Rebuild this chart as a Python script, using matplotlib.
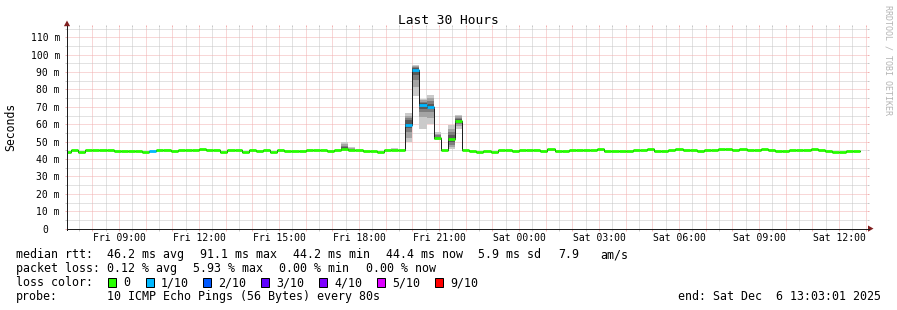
import matplotlib
matplotlib.use('Agg')
import matplotlib.pyplot as plt
import matplotlib.dates as mdates
import matplotlib.ticker as mticker
import matplotlib.transforms as mtransforms
from matplotlib.patches import Polygon, Rectangle
from matplotlib.lines import Line2D
from datetime import datetime, timedelta

# ---------------- data ----------------
view_start = datetime(2025, 12, 5, 7, 3, 1)
view_end = datetime(2025, 12, 6, 13, 3, 1)
first_bin = datetime(2025, 12, 5, 6, 56)
bin_minutes = 16

# median rtt per 16-minute bin (ms)
median_ms = [
    44.25, 45.2, 44.3, 45.0, 45.0, 45.2, 45.2, 44.65, 44.65, 44.65,
    44.65, 44.25, 44.65, 45.2, 45.2, 44.7, 45.2, 45.2, 45.2, 45.9,
    45.2, 45.2, 44.3, 45.2, 45.2, 44.3, 45.2, 44.7, 45.2, 44.3,
    45.2, 44.7, 44.7, 44.7, 45.0, 45.0, 45.0, 44.7, 45.2, 45.9,
    45.0, 45.0, 44.7, 44.7, 44.25, 45.0, 45.0, 45.0, 59.6, 91.1,
    71.1, 70.2, 52.0, 45.1, 51.7, 61.9, 45.0, 44.7, 44.25, 44.7,
    44.25, 45.1, 45.0, 44.7, 45.1, 45.1, 45.1, 44.7, 45.7, 44.85,
    44.85, 45.1, 45.1, 45.1, 45.1, 45.7, 44.85, 44.85, 44.85, 44.9,
    45.2, 45.2, 45.7, 44.85, 44.85, 45.2, 45.7, 45.5, 45.5, 44.85,
    45.2, 45.2, 45.7, 45.7, 45.2, 45.7, 45.2, 45.2, 45.7, 45.2,
    44.9, 44.65, 45.2, 45.2, 45.2, 45.8, 45.2, 44.85, 44.3, 44.3,
    44.85, 44.85,
]

# bins with packet loss (lost pings out of 10)
loss_bins = [12, 48, 49, 50, 51]
loss_pings = [0.08, 0.35, 0.593, 0.20, 0.12]

# bins with visible smoke: the 10 individual ping rtts (ms)
smoke_bins = [39, 40, 46, 48, 49, 50, 51, 52, 54, 55]
smoke_pings = [
    [45.2, 45.5, 45.7, 45.8, 45.9, 46.0, 46.7, 47.5, 48.6, 49.8],
    [44.8, 44.9, 44.95, 45.0, 45.0, 45.05, 45.4, 45.9, 46.4, 47.0],
    [44.8, 44.9, 44.95, 45.0, 45.0, 45.05, 45.2, 45.5, 46.0, 46.6],
    [50.0, 52.3, 55.8, 57.8, 58.9, 60.3, 62.3, 63.5, 64.8, 66.4],
    [76.3, 81.7, 85.3, 88.3, 90.7, 91.5, 92.2, 93.0, 93.5, 94.2],
    [57.3, 64.3, 66.8, 68.8, 70.8, 71.4, 72.2, 73.0, 73.7, 74.4],
    [60.3, 63.8, 66.8, 68.8, 69.8, 70.6, 71.8, 73.3, 75.3, 76.9],
    [50.8, 51.3, 51.6, 51.9, 52.0, 52.1, 52.8, 53.8, 54.6, 55.4],
    [45.6, 46.8, 48.3, 49.8, 51.3, 52.1, 53.8, 55.3, 57.3, 59.6],
    [57.3, 58.8, 60.3, 61.3, 61.8, 62.0, 63.1, 63.8, 64.6, 65.4],
]

y_ticks = [0, 10, 20, 30, 40, 50, 60, 70, 80, 90, 100, 110]
y_tick_labels = ['0', '10 m', '20 m', '30 m', '40 m', '50 m', '60 m',
                 '70 m', '80 m', '90 m', '100 m', '110 m']
y_minor_ticks = [5, 15, 25, 35, 45, 55, 65, 75, 85, 95, 105, 115]

loss_labels = ['0', '1/10', '2/10', '3/10', '4/10', '5/10', '9/10']
loss_colors = ['#26ff00', '#00b8ff', '#0059ff', '#5e00ff', '#7e00ff', '#dd00ff', '#ff0000']
loss_upper = [0, 1, 2, 3, 4, 5, 10]

smoke_shades = ['#cacaca', '#a4a4a4', '#7e7e7e', '#585858', '#323232']

title = 'Last 30 Hours'
ylabel = 'Seconds'
watermark = 'RRDTOOL / TOBI OETIKER'
line1 = ['median rtt:', '46.2 ms avg', '91.1 ms max', '44.2 ms min',
         '44.4 ms now', '5.9 ms sd', '7.9', 'am/s']
line2 = ['packet loss:', '0.12 % avg', '5.93 % max', '0.00 % min', '0.00 % now']
line3_head = 'loss color:'
line4 = ['probe:', '10 ICMP Echo Pings (56 Bytes) every 80s']
end_text = 'end: Sat Dec  6 13:03:01 2025'

# ---------------- drawing ----------------
plt.rcParams['font.family'] = ['DejaVu Sans Mono']
W, H, DPI = 897, 310, 100
PX = 72.0 / DPI
fig = plt.figure(figsize=(W / DPI, H / DPI), dpi=DPI, facecolor='white')

def fx(x):
    return x / W

def fy(y):
    return 1 - y / H

X0, X1, YB, YT = 67, 867, 228.7, 26.5
ax = fig.add_axes([fx(X0), fy(YB), (X1 - X0) / W, (YB - YT) / H])
ax.set_facecolor('white')
ax.set_xlim(mdates.date2num(view_start), mdates.date2num(view_end))
ax.set_ylim(0, 116.2)
for s in ax.spines.values():
    s.set_visible(False)

n = len(median_ms)
edges = [mdates.date2num(first_bin + timedelta(minutes=bin_minutes * i)) for i in range(n + 1)]
bw = bin_minutes / 1440.0

# smoke
for k, shade in enumerate(smoke_shades):
    xs, hs, bs = [], [], []
    for b, pings in zip(smoke_bins, smoke_pings):
        p = sorted(pings)
        xs.append(edges[b])
        bs.append(p[k])
        hs.append(p[len(p) - 1 - k] - p[k])
    ax.bar(xs, hs, bottom=bs, width=bw, align='edge', color=shade,
           linewidth=0, zorder=2)

# median line
ax.step(edges, median_ms + [median_ms[-1]], where='post', color='#202020',
        lw=1.0 * PX, zorder=3)

# loss-coloured median band
loss = [0.0] * n
for b, l in zip(loss_bins, loss_pings):
    loss[b] = l

def loss_color(l):
    for up, c in zip(loss_upper, loss_colors):
        if l <= up:
            return c
    return loss_colors[-1]

cols = [loss_color(l) for l in loss]
lc = ax.hlines(median_ms, edges[:-1], edges[1:], colors=cols, lw=2.8 * PX, zorder=4)
lc.set_capstyle('butt')

# grid & ticks
ax.xaxis.set_major_locator(mdates.HourLocator())
ax.xaxis.set_minor_locator(mdates.MinuteLocator(byminute=[30]))

def xfmt(x, pos):
    d = mdates.num2date(x)
    return d.strftime('%a %H:%M') if d.hour % 3 == 0 else ''

ax.xaxis.set_major_formatter(mticker.FuncFormatter(xfmt))
ax.set_yticks(y_ticks, y_tick_labels)
ax.set_yticks(y_minor_ticks, minor=True)

MAJ = '#f2b0b0'
MIN = '#c6c6c6'
ax.set_axisbelow(True)
ax.grid(True, which='major', color=MAJ, lw=PX, ls=(0, (1, 1)))
ax.grid(True, which='minor', color=MIN, lw=PX, ls=(0, (1, 1)))
ax.tick_params(which='major', length=2 * PX, width=PX, color=MAJ,
               direction='out', labelsize=7, right=True, top=True)
ax.tick_params(which='minor', length=2 * PX, width=PX, color=MIN,
               direction='out', right=True, top=True)
ax.tick_params(axis='y', which='major', pad=5 * PX)
ax.tick_params(axis='x', which='major', pad=2.5 * PX)

zl = ax.get_yticklabels()[0]
zl.set_transform(zl.get_transform() +
                 mtransforms.ScaledTranslation(-12 / DPI, 0, fig.dpi_scale_trans))

# axes lines with arrows
axis_col = '#1f1f1f'
arrow_col = '#801f1f'
fig.add_artist(Line2D([fx(X0), fx(X1 + 2)], [fy(YB), fy(YB)], color=axis_col,
                      lw=PX, transform=fig.transFigure))
fig.add_artist(Line2D([fx(X0), fx(X0)], [fy(YB + 1), fy(YT - 1)], color=axis_col,
                      lw=PX, transform=fig.transFigure))
fig.add_artist(Polygon([(fx(868), fy(225.5)), (fx(868), fy(231.7)), (fx(873.5), fy(228.6))],
                       closed=True, color=arrow_col, lw=0, transform=fig.transFigure))
fig.add_artist(Polygon([(fx(63.9), fy(26.2)), (fx(70.1), fy(26.2)), (fx(67), fy(20.5))],
                       closed=True, color=arrow_col, lw=0, transform=fig.transFigure))

# titles
fig.text(0.5, fy(24), title, ha='center', va='baseline', fontsize=9.3)
fig.text(fx(11), fy(127), ylabel, rotation=90, ha='center', va='center', fontsize=8.3)
fig.text(fx(888), fy(60), watermark, rotation=270, ha='center', va='center',
         fontsize=6, color='#b4b4b4')

# legend
LFS = 8.4
for txt, x in zip(line1, [16, 107.3, 200.3, 293.3, 386, 478, 558, 600]):
    fig.text(fx(x), fy(258.3), txt, ha='left', va='baseline', fontsize=LFS)
for txt, x in zip(line2, [16, 107.3, 192.7, 279.3, 365.7]):
    fig.text(fx(x), fy(272.3), txt, ha='left', va='baseline', fontsize=LFS)
fig.text(fx(16), fy(286.3), line3_head, ha='left', va='baseline', fontsize=LFS)
for lab, col, x in zip(loss_labels, loss_colors, [108.3, 145.7, 203.3, 261, 319, 377, 435]):
    fig.add_artist(Rectangle((fx(x), fy(286.5)), 8 / W, 8.5 / H, facecolor=col,
                             edgecolor='black', lw=PX, transform=fig.transFigure))
    fig.text(fx(x + 15), fy(286.3), lab, ha='left', va='baseline', fontsize=LFS)
for txt, x in zip(line4, [16, 107.3]):
    fig.text(fx(x), fy(300.3), txt, ha='left', va='baseline', fontsize=LFS)
fig.text(fx(881), fy(300.3), end_text, ha='right', va='baseline', fontsize=LFS)

fig.savefig('out.png', dpi=DPI, facecolor='white')
